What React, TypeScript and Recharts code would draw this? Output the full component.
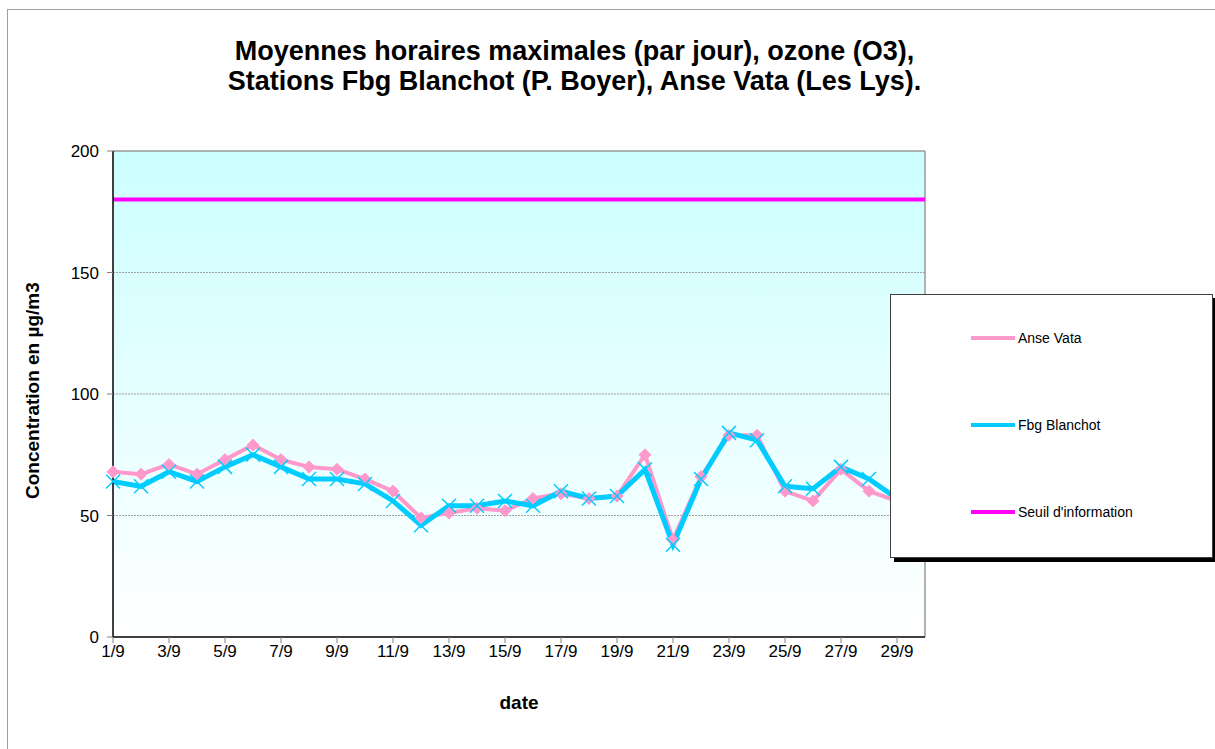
import React from "react";
import { LineChart, Line, XAxis, YAxis, CartesianGrid, ReferenceLine } from "recharts";

const days = ["1/9","2/9","3/9","4/9","5/9","6/9","7/9","8/9","9/9","10/9","11/9","12/9","13/9","14/9","15/9","16/9","17/9","18/9","19/9","20/9","21/9","22/9","23/9","24/9","25/9","26/9","27/9","28/9","29/9","30/9"];
const anseVata = [68,67,71,67,73,79,73,70,69,65,60,49,51,53,52,57,59,57,58,75,40,66,83,83,60,56,69,60,56,55];
const fbgBlanchot = [64,62,68,64,70,75,70,65,65,63,56,46,54,54,56,54,60,57,58,69,38,65,84,81,62,61,70,65,57,56];
const seuilInformation = 180;
const yTicks = [0, 50, 100, 150, 200];

const data = days.map((d, i) => ({ day: d, anse: anseVata[i], fbg: fbgBlanchot[i], seuil: seuilInformation }));

const FONT = "'Liberation Sans', Arial, sans-serif";
const PINK = "#FF99CC";
const CYAN = "#00CCFF";
const MAGENTA = "#FF00FF";

const Diamond = (props: any) => {
  const { cx, cy } = props;
  if (cx == null || cy == null) return null;
  const s = 6;
  return <polygon points={`${cx},${cy - s} ${cx + s},${cy} ${cx},${cy + s} ${cx - s},${cy}`} fill={PINK} stroke={PINK} />;
};

const Cross = (props: any) => {
  const { cx, cy } = props;
  if (cx == null || cy == null) return null;
  const s = 7;
  return (
    <g stroke={CYAN} strokeWidth={1.5}>
      <line x1={cx - s} y1={cy - s} x2={cx + s} y2={cy + s} />
      <line x1={cx - s} y1={cy + s} x2={cx + s} y2={cy - s} />
    </g>
  );
};

const legendItems = [
  { label: "Anse Vata", color: PINK },
  { label: "Fbg Blanchot", color: CYAN },
  { label: "Seuil d'information", color: MAGENTA },
];

export default function App() {
  return (
    <div style={{ position: "absolute", left: 0, top: 0, width: 1215, height: 749, background: "#fff", overflow: "hidden", fontFamily: FONT }}>
      <div style={{ position: "absolute", left: 7, top: 9, width: 1300, height: 800, borderLeft: "1px solid #a0a0a0", borderTop: "1px solid #a0a0a0" }} />
      <div style={{ position: "absolute", left: 0, top: 36, width: 1149, textAlign: "center", fontWeight: "bold", fontSize: 27, lineHeight: "30px", color: "#000" }}>
        Moyennes horaires maximales (par jour), ozone (O3),<br />
        Stations Fbg Blanchot (P. Boyer), Anse Vata (Les Lys).
      </div>
      <div style={{ position: "absolute", left: 0, top: 0 }}>
        <LineChart width={1215} height={749} data={data} margin={{ top: 151, right: 290, bottom: 82, left: 53 }}>
          <defs>
            <linearGradient id="bgGrad" x1="0" y1="0" x2="0" y2="1">
              <stop offset="0%" stopColor="#CCFFFF" />
              <stop offset="100%" stopColor="#FFFFFF" />
            </linearGradient>
          </defs>
          <CartesianGrid vertical={false} fill="url(#bgGrad)" stroke="#a0a0a0" strokeDasharray="2 1" horizontalValues={[50, 100, 150]} />
          <XAxis
            dataKey="day"
            interval={1}
            height={30}
            axisLine={{ stroke: "#000", strokeWidth: 1.5 }}
            tickLine={{ stroke: "#808080" }}
            tickSize={6}
            tick={{ fontSize: 17, fill: "#000", fontFamily: FONT }}
            label={{ value: "date", position: "insideBottom", offset: -42, fontSize: 19, fontWeight: "bold", fill: "#000", fontFamily: FONT }}
          />
          <YAxis
            domain={[0, 200]}
            ticks={yTicks}
            width={60}
            axisLine={{ stroke: "#000", strokeWidth: 1.5 }}
            tickLine={{ stroke: "#808080" }}
            tickSize={6}
            tick={{ fontSize: 17, fill: "#000", fontFamily: FONT, dx: -6 }}
            label={{ value: "Concentration en µg/m3", angle: -90, position: "insideLeft", offset: -21, dy: 105, fontSize: 19, fontWeight: "bold", fill: "#000", fontFamily: FONT }}
          />
          <ReferenceLine y={200} stroke="#999" strokeWidth={1.5} />
          <ReferenceLine x="30/9" stroke="#999" strokeWidth={1.5} />
          <Line dataKey="seuil" stroke={MAGENTA} strokeWidth={4} dot={false} isAnimationActive={false} />
          <Line dataKey="anse" stroke={PINK} strokeWidth={4} dot={<Diamond />} isAnimationActive={false} />
          <Line dataKey="fbg" stroke={CYAN} strokeWidth={5} dot={<Cross />} isAnimationActive={false} />
        </LineChart>
      </div>
      <div style={{ position: "absolute", left: 890, top: 294, width: 321, height: 262, background: "#fff", border: "1px solid #404040", boxShadow: "4px 4px 0 #000" }}>
        {legendItems.map((it, i) => (
          <div key={it.label} style={{ position: "absolute", left: 80, top: 35 + i * 87, display: "flex", alignItems: "center", fontSize: 14, color: "#000" }}>
            <div style={{ width: 44, height: 4, background: it.color, marginRight: 3 }} />
            <span>{it.label}</span>
          </div>
        ))}
      </div>
    </div>
  );
}
